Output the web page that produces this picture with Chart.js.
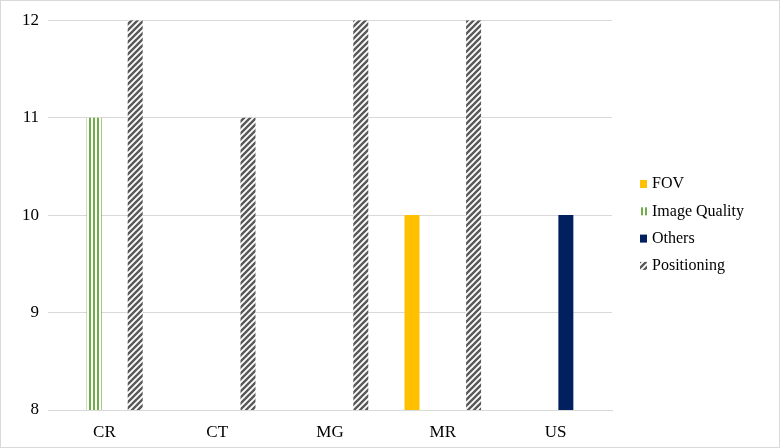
<!DOCTYPE html>
<html>
<head>
<meta charset="utf-8">
<script src="https://cdn.jsdelivr.net/npm/chart.js@4/dist/chart.umd.min.js"></script>
<style>
  html, body { margin: 0; padding: 0; background: #fff; }
  #wrap { width: 780px; height: 448px; box-sizing: border-box; border: 1px solid #d9d9d9; }
</style>
</head>
<body>
<div id="wrap"><canvas id="chart" width="778" height="446"></canvas></div>
<script>
const categories = ['CR', 'CT', 'MG', 'MR', 'US'];
const fov = [8, 8, 8, 10, 8];
const imageQuality = [11, 8, 8, null, 8];
const others = [8, 8, 8, null, 10];
const positioning = [12, 11, 12, 12, 8];
const yTicks = [8, 9, 10, 11, 12];

const serif = "'Liberation Serif', 'Times New Roman', serif";

// vertical green stripes
function verticalStripes(color) {
  const c = document.createElement('canvas');
  c.width = 4; c.height = 4;
  const g = c.getContext('2d');
  g.fillStyle = '#fff';
  g.fillRect(0, 0, 4, 4);
  g.fillStyle = color;
  g.fillRect(0, 0, 2, 4);
  return g.createPattern(c, 'repeat');
}

// "/" diagonal stripes
function diagonalStripes(color) {
  const s = 6;
  const c = document.createElement('canvas');
  c.width = s; c.height = s;
  const g = c.getContext('2d');
  g.fillStyle = '#fff';
  g.fillRect(0, 0, s, s);
  g.strokeStyle = color;
  g.lineWidth = 2.4;
  g.beginPath();
  g.moveTo(0, s); g.lineTo(s, 0);
  g.moveTo(-s / 2, s / 2); g.lineTo(s / 2, -s / 2);
  g.moveTo(s / 2, s * 1.5); g.lineTo(s * 1.5, s / 2);
  g.stroke();
  return g.createPattern(c, 'repeat');
}

// legend drawn on the right side
const sideLegend = {
  id: 'sideLegend',
  afterDraw(chart) {
    const ctx = chart.ctx;
    const x = 639;
    let y = 183;
    ctx.save();
    ctx.font = '16px ' + serif;
    ctx.textBaseline = 'middle';
    chart.data.datasets.forEach(ds => {
      ctx.fillStyle = ds.backgroundColor;
      ctx.fillRect(x, y - 4, 7, 8);
      ctx.fillStyle = '#000';
      ctx.fillText(ds.label, x + 12, y);
      y += 27.3;
    });
    ctx.restore();
  }
};

new Chart(document.getElementById('chart'), {
  type: 'bar',
  data: {
    labels: categories,
    datasets: [
      { label: 'FOV', data: fov, backgroundColor: '#ffc000' },
      { label: 'Image Quality', data: imageQuality, backgroundColor: verticalStripes('#70ad47') },
      { label: 'Others', data: others, backgroundColor: '#002060' },
      { label: 'Positioning', data: positioning, backgroundColor: diagonalStripes('#595959') }
    ]
  },
  options: {
    responsive: false,
    animation: false,
    layout: { padding: { left: 12, right: 167, top: 12, bottom: -8 } },
    datasets: {
      bar: { categoryPercentage: 0.728, barPercentage: 0.73, minBarLength: 4 }
    },
    scales: {
      x: {
        grid: { display: false, drawTicks: false },
        border: { color: '#d9d9d9' },
        ticks: { color: '#000', font: { family: serif, size: 17, lineHeight: 1 }, padding: 14 }
      },
      y: {
        min: 8,
        max: 12,
        afterBuildTicks: axis => { axis.ticks = yTicks.map(v => ({ value: v })); },
        grid: { color: '#d9d9d9', drawTicks: false },
        border: { display: false },
        ticks: { color: '#000', font: { family: serif, size: 17 }, padding: 9 }
      }
    },
    plugins: {
      legend: { display: false },
      tooltip: { enabled: false }
    }
  },
  plugins: [sideLegend]
});
</script>
</body>
</html>
